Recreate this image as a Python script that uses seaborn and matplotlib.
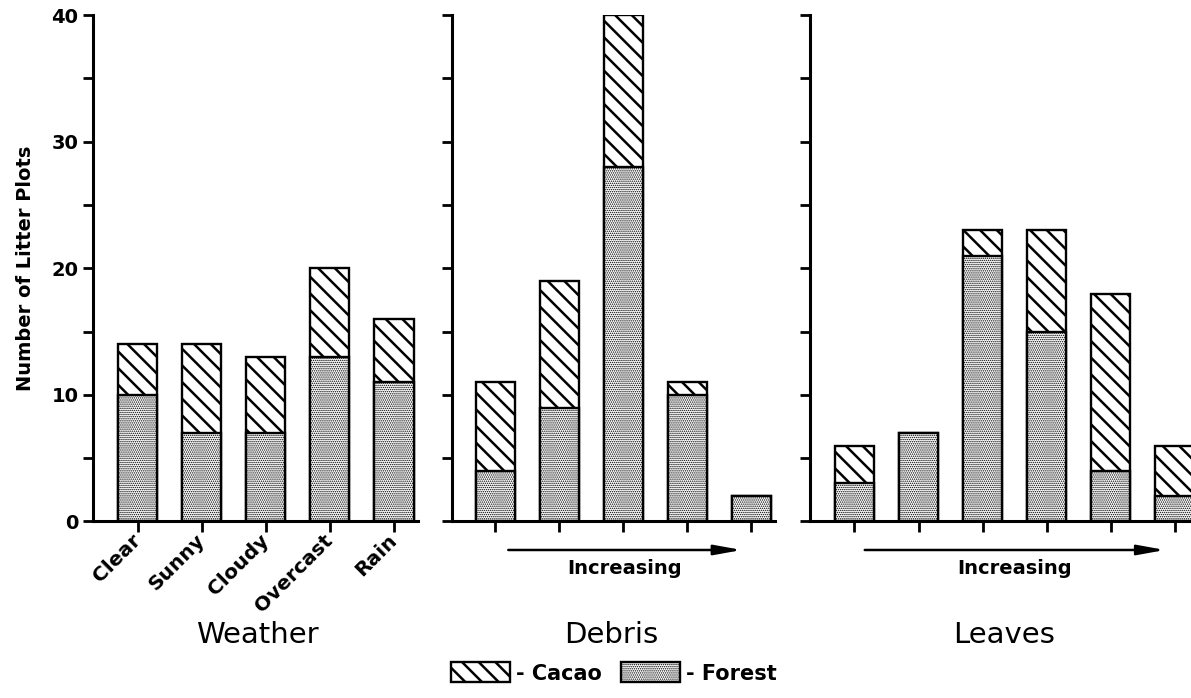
import matplotlib
matplotlib.use("Agg")
import matplotlib.pyplot as plt
import matplotlib.transforms as mtransforms
from matplotlib.patches import Patch
import seaborn as sns
import pandas as pd

# Litter plot counts per category, split into forest and cacao plots
weather = ["Clear", "Sunny", "Cloudy", "Overcast", "Rain"]
weather_forest = [10, 7, 7, 13, 11]
weather_cacao = [4, 7, 6, 7, 5]

debris_levels = ["1", "2", "3", "4", "5"]
debris_forest = [4, 9, 28, 10, 2]
debris_cacao = [7, 10, 12, 1, 0]

leaves_levels = ["1", "2", "3", "4", "5", "6"]
leaves_forest = [3, 7, 21, 15, 4, 2]
leaves_cacao = [3, 0, 2, 8, 14, 4]

y_major = [0, 10, 20, 30, 40]
y_minor = [5, 15, 25, 35]

panel_titles = ["Weather", "Debris", "Leaves"]
gradient_label = "Increasing"
legend_labels = ["- Cacao", "- Forest"]

sns.set_style("ticks")
plt.rcParams["font.family"] = ["DejaVu Sans"]
plt.rcParams["font.weight"] = "bold"
for key in ("text.color", "axes.labelcolor", "xtick.color", "ytick.color",
            "axes.edgecolor", "hatch.color"):
    plt.rcParams[key] = "black"
plt.rcParams["hatch.linewidth"] = 1.8

CACAO_HATCH = "\\\\"
FOREST_HATCH = "........"
BAR_W = 0.61
EDGE_LW = 1.7
DOT_LW = 0.7


def thin_dots(patch):
    if hasattr(patch, "set_hatch_linewidth"):
        patch.set_hatch_linewidth(DOT_LW)


fig = plt.figure(figsize=(11.91, 6.98), dpi=100)

bottom, height = 0.2529, 0.7256
ax1 = fig.add_axes([93 / 1191, bottom, 325 / 1191, height])
ax2 = fig.add_axes([452 / 1191, bottom, 323 / 1191, height])
ax3 = fig.add_axes([810 / 1191, bottom, 396 / 1191, height])


def stacked_panel(ax, cats, forest, cacao):
    total = [f + c for f, c in zip(forest, cacao)]
    df = pd.DataFrame({"cat": cats, "total": total, "forest": forest})
    # full bar (cacao hatch) underneath, forest stipple drawn over its lower part
    sns.barplot(data=df, x="cat", y="total", ax=ax, color="white", saturation=1,
                edgecolor="black", linewidth=EDGE_LW, hatch=CACAO_HATCH,
                width=BAR_W, errorbar=None)
    n = len(ax.patches)
    sns.barplot(data=df, x="cat", y="forest", ax=ax, color="white", saturation=1,
                edgecolor="black", linewidth=EDGE_LW, hatch=FOREST_HATCH,
                width=BAR_W, errorbar=None)
    for p in ax.patches[n:]:
        thin_dots(p)
    ax.set_xlabel("")
    ax.set_ylabel("")
    ax.set_ylim(0, 40)
    ax.set_yticks(y_major)
    ax.set_yticks(y_minor, minor=True)
    ax.tick_params(axis="y", which="both", direction="out", length=7.5, width=2,
                   labelsize=14, pad=3)
    ax.tick_params(axis="x", direction="out", length=8, width=2)
    sns.despine(ax=ax)
    for s in ("left", "bottom"):
        ax.spines[s].set_linewidth(2.2)


stacked_panel(ax1, weather, weather_forest, weather_cacao)
stacked_panel(ax2, debris_levels, debris_forest, debris_cacao)
stacked_panel(ax3, leaves_levels, leaves_forest, leaves_cacao)

ax1.set_xlim(-0.70, 4.375)
ax2.set_xlim(-0.68, 4.37)
ax3.set_xlim(-0.695, 5.49)

ax1.set_xticks(range(len(weather)))
ax1.set_xticklabels(weather, rotation=45, ha="right", va="center",
                    rotation_mode="anchor", fontsize=14.5, fontweight="bold")
for ax in (ax2, ax3):
    ax.tick_params(axis="x", labelbottom=False)
    ax.tick_params(axis="y", which="both", labelleft=False)

# gradient arrows under the Debris and Leaves panels
for ax, x0, x1 in ((ax2, 0.2, 3.85), (ax3, 0.16, 4.85)):
    tr = mtransforms.blended_transform_factory(ax.transData, ax.transAxes)
    ax.annotate("", xy=(x1, -0.0563), xytext=(x0, -0.0563), xycoords=tr, textcoords=tr,
                arrowprops=dict(arrowstyle="-|>,head_length=1.1,head_width=0.2",
                                lw=1.8, color="black", mutation_scale=15,
                                shrinkA=0, shrinkB=0),
                annotation_clip=False)
    ax.text((x0 + x1) / 2, -0.1037, gradient_label, transform=tr, ha="center",
            va="baseline", fontsize=14, fontweight="bold")

fig.text(26 / 1191, (698 - 268) / 698, "Number of Litter Plots",
         rotation=90, ha="center", va="center", fontsize=14, fontweight="bold")

for x, t in zip((257, 611, 1004), panel_titles):
    fig.text(x / 1191, (698 - 643) / 698, t, ha="center", va="baseline",
             fontsize=21, fontweight="normal")

h_cacao = Patch(facecolor="white", edgecolor="black", linewidth=EDGE_LW, hatch=CACAO_HATCH)
h_forest = Patch(facecolor="white", edgecolor="black", linewidth=EDGE_LW, hatch=FOREST_HATCH)
leg = fig.legend(handles=[h_cacao, h_forest], labels=legend_labels, loc="center",
                 bbox_to_anchor=(614 / 1191, (698 - 673) / 698), ncol=2, frameon=False,
                 prop={"size": 15, "weight": "bold"}, handlelength=2.84, handleheight=1.1,
                 handletextpad=0.3, columnspacing=0.9, borderpad=0, borderaxespad=0)
leg_patches = leg.get_patches()
if len(leg_patches) > 1:
    thin_dots(leg_patches[1])

fig.savefig("out.png", dpi=100)
